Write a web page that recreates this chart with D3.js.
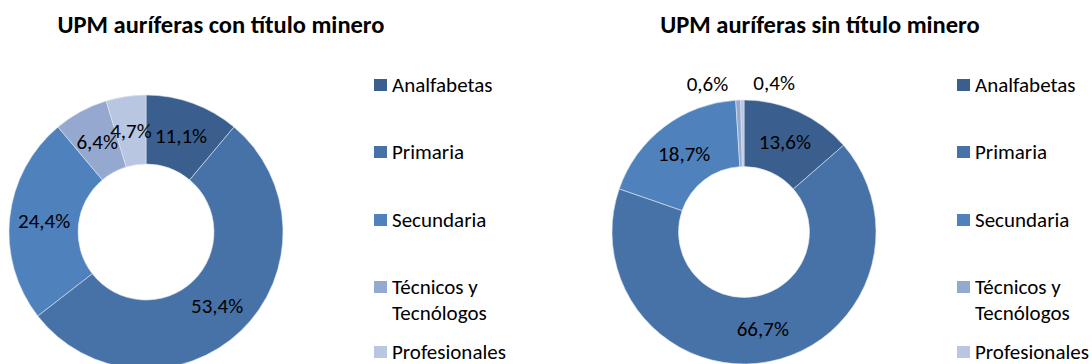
<!DOCTYPE html>
<html>
<head>
<meta charset="utf-8">
<script src="https://cdn.jsdelivr.net/npm/d3@7"></script>
<style>
  html, body { margin: 0; padding: 0; background: #fff; }
  svg { display: block; font-family: Carlito, Calibri, Lato, "Open Sans", sans-serif; }
</style>
</head>
<body>
<svg id="chart" width="1092" height="364"></svg>
<script>
// Education level categories shared by both donuts
const categories = ["Analfabetas", "Primaria", "Secundaria", "Técnicos y Tecnólogos", "Profesionales"];
const legendLines = [["Analfabetas"], ["Primaria"], ["Secundaria"], ["Técnicos y", "Tecnólogos"], ["Profesionales"]];
const colors = ["#3A5F8E", "#4672A8", "#4F81BD", "#95A9D0", "#B9C6E2"];

// Share of gold mining units (%) by education level
const conTitulo = [11.1, 53.4, 24.4, 6.4, 4.7];
const sinTitulo = [13.6, 66.7, 18.7, 0.6, 0.4];

const titles = ["UPM auríferas con título minero", "UPM auríferas sin título minero"];

const svg = d3.select("#chart");
const fmt = v => d3.format(".1f")(v).replace(".", ",") + "%";

const panels = [
  { values: conTitulo, title: titles[0], cx: 146, cy: 232, r: 137, ri: 68, titleX: 221, legendX: 374,
    outside: [false, false, false, false, false], labelShift: [0, 0, 0, 0, 0] },
  { values: sinTitulo, title: titles[1], cx: 744, cy: 232, r: 132, ri: 65.5, titleX: 820, legendX: 957,
    outside: [false, false, false, true, true], labelShift: [0, 0, 0, -30, 32] }
];

const legendY = [85, 152, 220, 287, 352];

panels.forEach(p => {
  const g = svg.append("g");

  g.append("text")
    .attr("x", p.titleX).attr("y", 33)
    .attr("text-anchor", "middle")
    .attr("font-weight", "bold")
    .attr("font-size", 24.5)
    .attr("fill", "#000")
    .text(p.title);

  const pie = d3.pie().sort(null).value(d => d);
  const arcs = pie(p.values);
  const arc = d3.arc().innerRadius(p.ri).outerRadius(p.r);
  const labelArc = d3.arc().innerRadius((p.ri + p.r) / 2).outerRadius((p.ri + p.r) / 2);
  const outerArc = d3.arc().innerRadius(p.r + 17).outerRadius(p.r + 17);

  const donut = g.append("g").attr("transform", `translate(${p.cx},${p.cy})`);
  donut.selectAll("path")
    .data(arcs)
    .join("path")
    .attr("d", arc)
    .attr("fill", (d, i) => colors[i])
    .attr("stroke", "#dfe6f0")
    .attr("stroke-width", 0.6);

  donut.selectAll("text")
    .data(arcs)
    .join("text")
    .attr("transform", (d, i) => {
      const c = p.outside[i] ? outerArc.centroid(d) : labelArc.centroid(d);
      return `translate(${c[0] + p.labelShift[i]},${c[1]})`;
    })
    .attr("text-anchor", "middle")
    .attr("dy", "0.35em")
    .attr("font-size", 21)
    .attr("fill", "#000")
    .text(d => fmt(d.data));

  const leg = g.append("g");
  legendLines.forEach((lines, i) => {
    leg.append("rect")
      .attr("x", p.legendX).attr("y", legendY[i] - 6)
      .attr("width", 13).attr("height", 12)
      .attr("fill", colors[i]);
    const t = leg.append("text")
      .attr("x", p.legendX + 18).attr("y", legendY[i])
      .attr("font-size", 21)
      .attr("fill", "#000");
    lines.forEach((line, k) => {
      t.append("tspan")
        .attr("x", p.legendX + 18)
        .attr("dy", k === 0 ? "0.35em" : 26)
        .text(line);
    });
  });
});
</script>
</body>
</html>
